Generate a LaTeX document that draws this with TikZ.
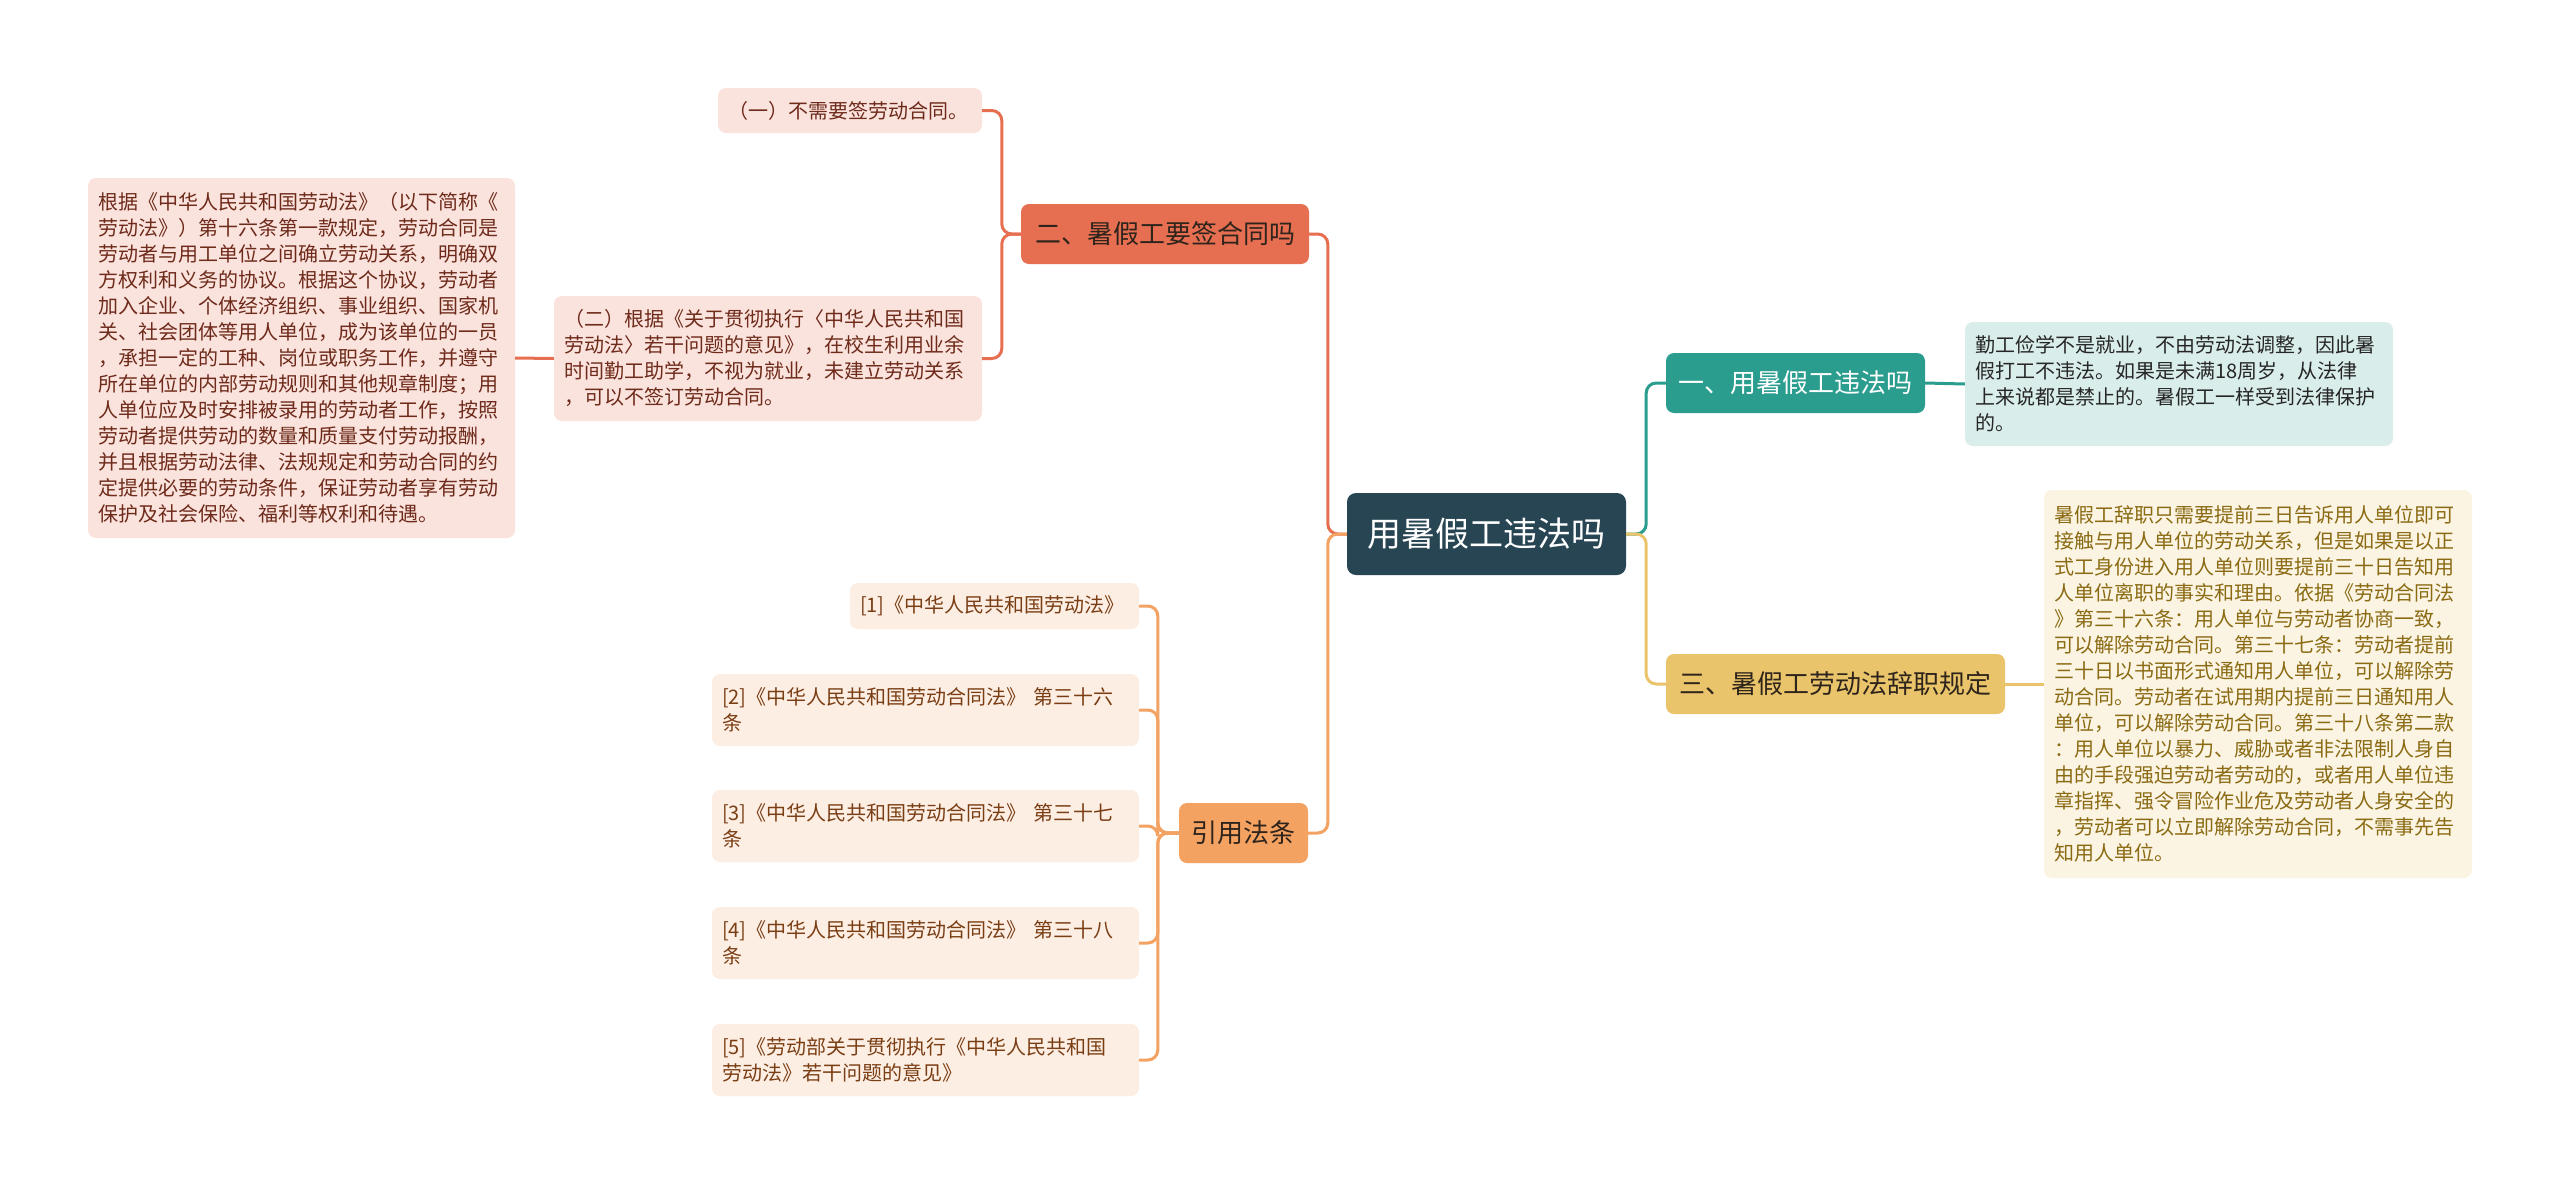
\documentclass[tikz,border=0pt]{standalone}
\usepackage{fontspec}
\setmainfont{Noto Sans CJK SC}
\definecolor{cCenter}{HTML}{284553}
\definecolor{cRed}{HTML}{E76F51}
\definecolor{cRedLeaf}{HTML}{FAE3DD}
\definecolor{cRedText}{HTML}{6E2A1A}
\definecolor{cTeal}{HTML}{2A9D8F}
\definecolor{cTealLeaf}{HTML}{D9EDEB}
\definecolor{cYel}{HTML}{E9C46A}
\definecolor{cYelLeaf}{HTML}{FBF4E3}
\definecolor{cYelText}{HTML}{8A6A12}
\definecolor{cOra}{HTML}{F4A261}
\definecolor{cOraLeaf}{HTML}{FDEEE4}
\definecolor{cOraText}{HTML}{7A3E14}
\definecolor{cDark}{HTML}{2E241C}
\tikzset{
  rootbox/.style={rounded corners=9pt, fill=cCenter, text=white, inner sep=0pt,
    minimum width=279pt, minimum height=82pt, font=\fontsize{34}{40}\selectfont},
  branchbox/.style={rounded corners=8pt, inner sep=0pt, minimum height=60pt,
    font=\fontsize{26}{30}\selectfont},
  leafbox/.style={rounded corners=8pt, inner xsep=10pt, inner ysep=0pt, align=left,
    font=\fontsize{20}{26}\selectfont},
  conn/.style={line width=3pt, rounded corners=10pt},
}
\begin{document}
\begin{tikzpicture}[x=1pt,y=-1pt]
\useasboundingbox[fill=white] (0,0) rectangle (2560,1184);

% root
\node[rootbox] (c) at (1486.5,534) {用暑假工违法吗};

% branches
\node[branchbox, fill=cRed, text=cDark, minimum width=288pt] (b2) at (1165,234) {二、暑假工要签合同吗};
\node[branchbox, fill=cTeal, text=white, minimum width=259pt] (b1) at (1795.5,383) {一、用暑假工违法吗};
\node[branchbox, fill=cYel, text=cDark, minimum width=339pt] (b3) at (1835.5,684) {三、暑假工劳动法辞职规定};
\node[branchbox, fill=cOra, text=cDark, minimum width=129pt] (rf) at (1243.5,833) {引用法条};

% leaves of b2
\node[leafbox, fill=cRedLeaf, text=cRedText, text width=244pt, minimum height=45pt] (l1) at (850,110.5)
  {（一）不需要签劳动合同。};
\node[leafbox, fill=cRedLeaf, text=cRedText, text width=408pt, minimum height=125pt] (l2) at (768,358.5)
  {（二）根据《关于贯彻执行〈中华人民共和国\\劳动法〉若干问题的意见》，在校生利用业余\\时间勤工助学，不视为就业，未建立劳动关系\\，可以不签订劳动合同。};
\node[leafbox, fill=cRedLeaf, text=cRedText, text width=407pt, minimum height=360pt] (big) at (301.5,358)
  {根据《中华人民共和国劳动法》（以下简称《\\劳动法》）第十六条第一款规定，劳动合同是\\劳动者与用工单位之间确立劳动关系，明确双\\方权利和义务的协议。根据这个协议，劳动者\\加入企业、个体经济组织、事业组织、国家机\\关、社会团体等用人单位，成为该单位的一员\\，承担一定的工种、岗位或职务工作，并遵守\\所在单位的内部劳动规则和其他规章制度；用\\人单位应及时安排被录用的劳动者工作，按照\\劳动者提供劳动的数量和质量支付劳动报酬，\\并且根据劳动法律、法规规定和劳动合同的约\\定提供必要的劳动条件，保证劳动者享有劳动\\保护及社会保险、福利等权利和待遇。};

% leaf of b1
\node[leafbox, fill=cTealLeaf, text=black!85, text width=408pt, minimum height=124pt] (t1) at (2179,384)
  {勤工俭学不是就业，不由劳动法调整，因此暑\\假打工不违法。如果是未满18周岁，从法律\\上来说都是禁止的。暑假工一样受到法律保护\\的。};

% leaf of b3
\node[leafbox, fill=cYelLeaf, text=cYelText, text width=408pt, minimum height=388pt] (y1) at (2258,684)
  {暑假工辞职只需要提前三日告诉用人单位即可\\接触与用人单位的劳动关系，但是如果是以正\\式工身份进入用人单位则要提前三十日告知用\\人单位离职的事实和理由。依据《劳动合同法\\》第三十六条：用人单位与劳动者协商一致，\\可以解除劳动合同。第三十七条：劳动者提前\\三十日以书面形式通知用人单位，可以解除劳\\动合同。劳动者在试用期内提前三日通知用人\\单位，可以解除劳动合同。第三十八条第二款\\：用人单位以暴力、威胁或者非法限制人身自\\由的手段强迫劳动者劳动的，或者用人单位违\\章指挥、强令冒险作业危及劳动者人身安全的\\，劳动者可以立即解除劳动合同，不需事先告\\知用人单位。};

% references
\node[leafbox, fill=cOraLeaf, text=cOraText, text width=269pt, minimum height=46pt] (r1) at (994.5,606)
  {[1]《中华人民共和国劳动法》};
\node[leafbox, fill=cOraLeaf, text=cOraText, text width=407pt, minimum height=72pt] (r2) at (925.5,710)
  {[2]《中华人民共和国劳动合同法》~第三十六\\条};
\node[leafbox, fill=cOraLeaf, text=cOraText, text width=407pt, minimum height=72pt] (r3) at (925.5,826)
  {[3]《中华人民共和国劳动合同法》~第三十七\\条};
\node[leafbox, fill=cOraLeaf, text=cOraText, text width=407pt, minimum height=72pt] (r4) at (925.5,943)
  {[4]《中华人民共和国劳动合同法》~第三十八\\条};
\node[leafbox, fill=cOraLeaf, text=cOraText, text width=407pt, minimum height=72pt] (r5) at (925.5,1060)
  {[5]《劳动部关于贯彻执行《中华人民共和国\\劳动法》若干问题的意见》};

% connectors root -> branches
\draw[conn, cRed] (c.west) -- ++(-19,0) |- (b2.east);
\draw[conn, cOra] (c.west) -- ++(-19,0) |- (rf.east);
\draw[conn, cTeal] (c.east) -- ++(20,0) |- (b1.west);
\draw[conn, cYel] (c.east) -- ++(20,0) |- (b3.west);

% b2 -> leaves
\draw[conn, cRed] (b2.west) -- ++(-19,0) |- (l1.east);
\draw[conn, cRed] (b2.west) -- ++(-19,0) |- (l2.east);
\draw[conn, cRed] (l2.west) -- (big.east);

% b1, b3 -> leaves
\draw[conn, cTeal] (b1.east) -- (t1.west);
\draw[conn, cYel] (b3.east) -- (y1.west);

% refs
\foreach \r in {r1,r2,r3,r4,r5}
  \draw[conn, cOra] (rf.west) -- ++(-21,0) |- (\r.east);
\end{tikzpicture}
\end{document}
